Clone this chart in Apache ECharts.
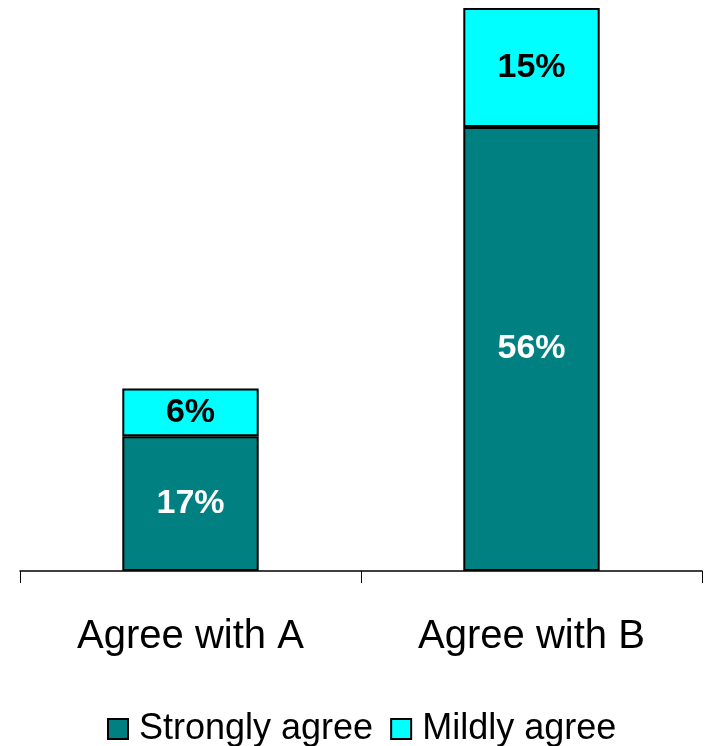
<!DOCTYPE html>
<html>
<head>
<meta charset="utf-8">
<script src="https://cdn.jsdelivr.net/npm/echarts@6/dist/echarts.min.js"></script>
<style>
html,body{margin:0;padding:0;background:#fff;}
#chart{width:705px;height:746px;}
</style>
</head>
<body>
<div id="chart"></div>
<script>
const categories = ['Agree with A', 'Agree with B'];
const strongly = [17, 56];
const mildly = [6, 15];
const seriesNames = ['Strongly agree', 'Mildly agree'];

const chart = echarts.init(document.getElementById('chart'));
const font = '"Liberation Sans", Arial, sans-serif';
chart.setOption({
  animation: false,
  grid: { left: 20, right: 3, top: 8, bottom: 175 },
  xAxis: {
    type: 'category',
    data: categories,
    axisLine: { lineStyle: { color: '#000', width: 1.5 } },
    axisTick: { show: true, length: 12, lineStyle: { color: '#000', width: 1 } },
    axisLabel: { color: '#000', fontSize: 40, fontFamily: font, margin: 46 }
  },
  yAxis: { type: 'value', min: 0, max: 71, show: false, splitLine: { show: false } },
  legend: {
    bottom: -6,
    left: 102,
    icon: 'rect',
    itemWidth: 20,
    itemHeight: 20,
    itemGap: 17,
    textStyle: { fontSize: 36, fontFamily: font, color: '#000', padding: [0, 0, 0, 6] },
    data: seriesNames
  },
  series: [
    {
      name: seriesNames[0],
      type: 'bar',
      stack: 'total',
      barWidth: '40%',
      data: strongly,
      itemStyle: { color: '#008080', borderColor: '#000', borderWidth: 2 },
      label: { show: true, position: 'inside', formatter: '{c}%', color: '#fff', fontSize: 34, fontWeight: 'bold', fontFamily: font }
    },
    {
      name: seriesNames[1],
      type: 'bar',
      stack: 'total',
      barWidth: '40%',
      data: mildly,
      itemStyle: { color: '#00FFFF', borderColor: '#000', borderWidth: 2 },
      label: { show: true, position: 'inside', formatter: '{c}%', color: '#000', fontSize: 34, fontWeight: 'bold', fontFamily: font }
    }
  ]
});
</script>
</body>
</html>
